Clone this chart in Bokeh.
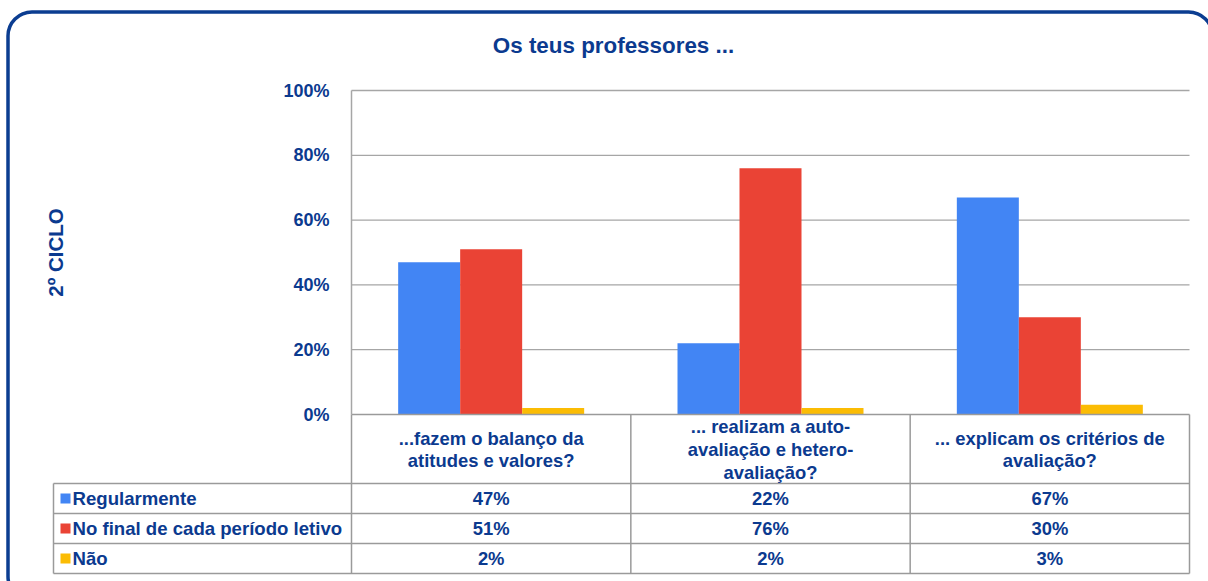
import math
from bokeh.plotting import figure
from bokeh.models import (Range1d, ColumnDataSource, FixedTicker, PrintfTickFormatter,
                          BoxAnnotation, LinearAxis)
from bokeh.core.properties import value
from bokeh.embed import file_html
from bokeh.resources import INLINE

# ---------------- data ----------------
categories = [
    "...fazem o balanço da\natitudes e valores?",
    "... realizam a auto-\navaliação e hetero-\navaliação?",
    "... explicam os critérios de\navaliação?",
]
series_names = ["Regularmente", "No final de cada período letivo", "Não"]
regularmente = [47, 22, 67]
no_final = [51, 76, 30]
nao = [2, 2, 3]
series_values = [regularmente, no_final, nao]
series_colors = ["#4285f4", "#ea4335", "#fbbc04"]
y_ticks = [0, 20, 40, 60, 80, 100]
title_text = "Os teus professores ..."
side_label = "2º CICLO"

# ---------------- layout ----------------
W, H = 1208, 581
PAGE = 0
AX_L, AX_R = 351, 1189      # plot area, page px
Y0, Y100 = 414, 90
NC = len(categories)
PXX = (AX_R - AX_L) / NC
PXY = (Y0 - Y100) / 100.0
TXT = "#0b3a8f"
GRID = "#a6a6a6"
FONT = value("Liberation Sans")


def fx(px):
    return (px - AX_L) / PXX


def fy(py):
    return (Y0 - py) / PXY


p = figure(width=W, height=H, output_backend="svg", toolbar_location=None,
           x_range=Range1d(fx(PAGE), fx(PAGE + W)),
           y_range=Range1d(fy(PAGE + H), fy(PAGE)),
           min_border=0, x_axis_location=None, y_axis_location=None)
p.outline_line_color = None
p.background_fill_color = "white"
p.border_fill_color = "white"
p.xgrid.visible = False
p.ygrid.visible = False

# y axis placed at x = 0
ax = LinearAxis(fixed_location=0, bounds=(0, 100))
ax.ticker = FixedTicker(ticks=y_ticks)
ax.formatter = PrintfTickFormatter(format="%d%%")
ax.axis_line_color = GRID
ax.axis_line_width = 1.5
ax.major_tick_line_color = None
ax.minor_tick_line_color = None
ax.major_label_standoff = 16
ax.major_label_text_font = "Liberation Sans"
ax.major_label_text_font_style = "bold"
ax.major_label_text_font_size = "18px"
ax.major_label_text_color = TXT
p.add_layout(ax, "left")

# gridlines
gt = [t for t in y_ticks if t > 0]
p.segment(x0=[0] * len(gt), x1=[NC] * len(gt), y0=gt, y1=gt,
          line_color=GRID, line_width=1.3)

# bars
bw = 62 / PXX
for j, (vals, col) in enumerate(zip(series_values, series_colors)):
    xs = [i + 0.5 + (j - 1) * bw for i in range(NC)]
    src = ColumnDataSource(dict(x=xs, top=vals))
    p.vbar(x="x", top="top", bottom=0, width=bw, source=src,
           fill_color=col, line_color=None)

# table lines
TL = 53
rows_y = [483, 513, 543, 573]
hx0 = [fx(AX_L)] + [fx(TL)] * len(rows_y)
hx1 = [fx(AX_R)] * (1 + len(rows_y))
hy = [0] + [fy(r) for r in rows_y]
p.segment(x0=hx0, x1=hx1, y0=hy, y1=hy, line_color="#9a9a9a", line_width=1.5)
vx = [fx(TL)] + [i for i in range(NC + 1)]
vy0 = [fy(483)] + [0] * (NC + 1)
vy1 = [fy(573)] * (NC + 2)
p.segment(x0=vx, x1=vx, y0=vy0, y1=vy1, line_color="#9a9a9a", line_width=1.5)

# category labels
p.text(x=[i + 0.5 for i in range(NC)], y=[fy(449)] * NC, text=categories,
       text_align="center", text_baseline="middle", text_font=FONT,
       text_font_style="bold", text_font_size="18.4px", text_color=TXT,
       text_line_height=1.08)

# table rows
for j, (name, vals, col) in enumerate(zip(series_names, series_values, series_colors)):
    yc = fy(498 + 30 * j)
    p.text(x=[i + 0.5 for i in range(NC)], y=[yc] * NC, text=[f"{v}%" for v in vals],
           text_align="center", text_baseline="middle", text_font=FONT,
           text_font_style="bold", text_font_size="18.4px", text_color=TXT)
    p.scatter(x=[fx(65)], y=[yc], marker="square", size=10, fill_color=col, line_color=None)
    p.text(x=[fx(72)], y=[yc], text=[name], text_align="left", text_baseline="middle",
           text_font=FONT, text_font_style="bold", text_font_size="18.6px", text_color=TXT)

# title and side label
p.text(x=[fx(613)], y=[fy(45)], text=[title_text], text_align="center",
       text_baseline="middle", text_font=FONT, text_font_style="bold",
       text_font_size="22.4px", text_color=TXT)
p.text(x=[fx(55)], y=[fy(252)], text=[side_label], angle=math.pi / 2,
       text_align="center", text_baseline="middle", text_font=FONT,
       text_font_style="bold", text_font_size="20.5px", text_color=TXT)

# rounded border
p.add_layout(BoxAnnotation(left=fx(7.5), right=fx(1212), top=fy(11.5), bottom=fy(600),
                           fill_color=None, fill_alpha=0, line_color="#0b3d91",
                           line_alpha=1.0, line_width=3.5, border_radius=24))

open("out.html", "w").write(file_html(p, INLINE))
